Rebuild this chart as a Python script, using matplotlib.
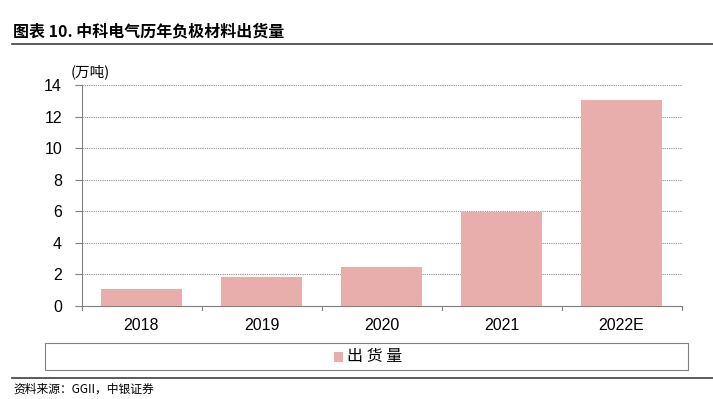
import matplotlib
matplotlib.use('Agg')
import matplotlib.pyplot as plt
from matplotlib.lines import Line2D
from matplotlib.patches import Rectangle

plt.rcParams['font.family'] = ['Liberation Sans', 'Noto Sans CJK SC', 'DejaVu Sans']
CJK = ['Noto Sans CJK SC', 'DejaVu Sans']

years = ['2018', '2019', '2020', '2021', '2022E']
shipments = [1.07, 1.83, 2.46, 5.93, 13.05]
y_ticks = [0, 2, 4, 6, 8, 10, 12, 14]

bar_color = '#e8aeac'
axis_color = '#808080'

W, H = 713, 399
fig = plt.figure(figsize=(W / 100, H / 100), dpi=100)
# axes box: left 81.5, right 681.5, top 85, bottom 306 (pixels)
ax = fig.add_axes([81.5 / W, 1 - 306 / H, 600 / W, 221 / H])

x = list(range(len(years)))
ax.bar(x, shipments, width=0.68, color=bar_color, zorder=3)
ax.set_xlim(-0.5, len(years) - 0.5)
ax.set_ylim(0, 14)
ax.set_yticks(y_ticks)
ax.set_xticks(x)
ax.set_xticklabels(years, fontsize=11.5)
ax.tick_params(axis='y', labelsize=11.5, length=5, width=0.8, color=axis_color, pad=9)
ax.tick_params(axis='x', length=0, pad=9)
# category separators on the x-axis
for b in [i - 0.5 for i in range(len(years) + 1)]:
    ax.plot([b, b], [0, -0.28], color=axis_color, lw=0.8, clip_on=False, zorder=4)

ax.grid(axis='y', color='#8c8c8c', linestyle=(0, (1, 1)), lw=0.8, zorder=0)
for s in ['top', 'right']:
    ax.spines[s].set_visible(False)
for s in ['left', 'bottom']:
    ax.spines[s].set_color(axis_color)
    ax.spines[s].set_linewidth(0.8)

fig.text(71 / W, 1 - 71.5 / H, '(万吨)', fontsize=10.5, family=CJK, ha='left', va='center')

# title and rules
fig.text(13 / W, 1 - 31 / H, '图表 10. 中科电气历年负极材料出货量', fontsize=11.5, fontweight='bold',
         family=CJK, va='center', ha='left')
fig.add_artist(Line2D([12 / W, 1], [1 - 44 / H, 1 - 44 / H], color='#404040', lw=1.2))
fig.add_artist(Line2D([12 / W, 1], [1 - 378 / H, 1 - 378 / H], color='#404040', lw=1.2))

# legend box
fig.add_artist(Rectangle((45 / W, 1 - 370 / H), 643 / W, 27 / H, transform=fig.transFigure,
                         fill=False, edgecolor=axis_color, lw=0.8))
fig.add_artist(Rectangle((334 / W, 1 - 362 / H), 9 / W, 10 / H, transform=fig.transFigure,
                         facecolor=bar_color, edgecolor='none'))
fig.text(347 / W, 1 - 357 / H, '出 货 量', fontsize=11.5, family=CJK, va='center', ha='left')

fig.text(13 / W, 1 - 389 / H, '资料来源：GGII，中银证券', fontsize=8.5, style='italic',
         family=CJK, va='center', ha='left')

fig.savefig('out.png', dpi=100)
